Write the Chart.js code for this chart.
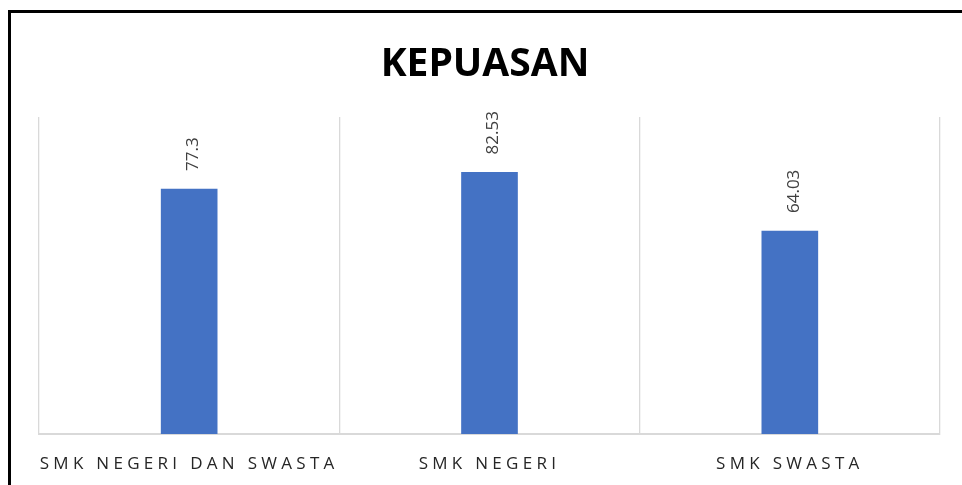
<!DOCTYPE html>
<html>
<head>
<meta charset="utf-8">
<script src="https://cdn.jsdelivr.net/npm/chart.js"></script>
<style>
html, body { margin: 0; padding: 0; background: #fff; overflow: hidden; }
#wrap { position: relative; width: 962px; height: 485px; overflow: hidden; }
#frame { position: absolute; left: 8px; top: 10px; width: 1000px; height: 600px; border: 3px solid #000; box-sizing: border-box; }
canvas { position: absolute; left: 0; top: 0; }
</style>
</head>
<body>
<div id="wrap">
  <div id="frame"></div>
  <canvas id="myChart" width="962" height="485"></canvas>
</div>
<script>
const categories = ['SMK NEGERI DAN SWASTA', 'SMK NEGERI', 'SMK SWASTA'];
const kepuasan = [77.3, 82.53, 64.03];
const yMin = 0;
const yMax = 100;

const ctx = document.getElementById('myChart');

// value labels, rotated like the original
const valueLabels = {
    id: 'valueLabels',
    afterDatasetsDraw(chart) {
        const c = chart.ctx;
        const meta = chart.getDatasetMeta(0);
        c.save();
        c.font = '17px "Open Sans"';
        c.fillStyle = '#404040';
        c.textAlign = 'left';
        c.textBaseline = 'middle';
        meta.data.forEach((bar, i) => {
            c.save();
            c.translate(bar.x + 4, bar.y - 18);
            c.rotate(-Math.PI / 2);
            c.fillText(String(kepuasan[i]), 0, 0);
            c.restore();
        });
        c.restore();
        // x tick labels are drawn after this (ticks z: 1), spaced out
        c.letterSpacing = '4.3px';
    },
    afterDraw(chart) {
        chart.ctx.letterSpacing = '0px';
    }
};

new Chart(ctx, {
    type: 'bar',
    data: {
        labels: categories,
        datasets: [
            {
                label: 'KEPUASAN',
                data: kepuasan,
                backgroundColor: '#4472C4',
                borderWidth: 0,
                barThickness: 56
            }
        ]
    },
    options: {
        responsive: false,
        animation: false,
        devicePixelRatio: 1,
        layout: {
            padding: { left: 30, right: 22, top: 41, bottom: 10.6 }
        },
        plugins: {
            legend: { display: false },
            tooltip: { enabled: false },
            title: {
                display: true,
                text: 'KEPUASAN',
                color: '#000',
                font: { family: '"Open Sans"', size: 39, weight: 'bold' },
                padding: { top: 0, bottom: 29.2 }
            }
        },
        scales: {
            x: {
                offset: true,
                grid: {
                    offset: true,
                    color: '#d9d9d9',
                    lineWidth: 1.3,
                    drawTicks: false
                },
                border: { color: '#d9d9d9', width: 2 },
                ticks: {
                    z: 1,
                    color: '#262626',
                    font: { family: '"Open Sans"', size: 17 },
                    padding: 20,
                    maxRotation: 0,
                    autoSkip: false
                },
                afterFit(scale) {
                    scale.height = 40.4;
                }
            },
            y: {
                display: true,
                min: yMin,
                max: yMax,
                grid: { display: false },
                border: { display: false },
                ticks: { display: false },
                afterFit(scale) {
                    scale.width = 9;
                }
            }
        }
    },
    plugins: [valueLabels]
});
</script>
</body>
</html>
